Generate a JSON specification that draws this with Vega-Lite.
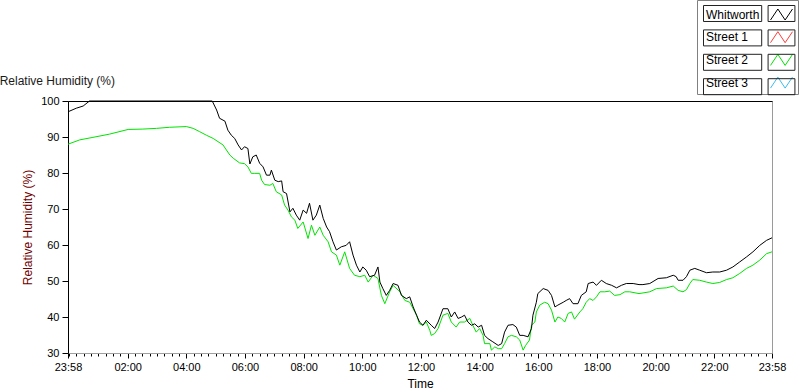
{
  "$schema": "https://vega.github.io/schema/vega-lite/v6.json",
  "width": 704,
  "height": 252,
  "autosize": {"type": "none"},
  "padding": {"left": 68, "top": 101, "right": 28, "bottom": 39},
  "background": "white",
  "config": {
    "font": "Liberation Sans",
    "view": {"stroke": "#9a9a9a", "strokeWidth": 1}
  },
  "title": {
    "text": "Relative Humidity (%)",
    "anchor": "start",
    "dx": -22,
    "dy": 102,
    "baseline": "alphabetic",
    "fontSize": 12,
    "font": "Liberation Sans",
    "fontWeight": "normal",
    "color": "#1a1a1a"
  },
  "datasets": {
    "rh": [
      {"s":"Whitworth","t":0,"v":97.0},{"s":"Whitworth","t":17,"v":98.0},{"s":"Whitworth","t":31,"v":98.6},{"s":"Whitworth","t":44,"v":100},{"s":"Whitworth","t":295,"v":100},
      {"s":"Whitworth","t":304,"v":97.5},{"s":"Whitworth","t":310,"v":95.2},{"s":"Whitworth","t":321,"v":94.4},{"s":"Whitworth","t":327,"v":91.9},{"s":"Whitworth","t":334,"v":90.5},
      {"s":"Whitworth","t":341,"v":89.6},{"s":"Whitworth","t":348,"v":87.8},{"s":"Whitworth","t":355,"v":86.4},{"s":"Whitworth","t":361,"v":87.3},{"s":"Whitworth","t":368,"v":86.8},
      {"s":"Whitworth","t":372,"v":82.5},{"s":"Whitworth","t":378,"v":84.5},{"s":"Whitworth","t":385,"v":85.0},{"s":"Whitworth","t":392,"v":82.7},{"s":"Whitworth","t":399,"v":81.7},
      {"s":"Whitworth","t":406,"v":79.4},{"s":"Whitworth","t":413,"v":79.4},{"s":"Whitworth","t":416,"v":80.8},{"s":"Whitworth","t":423,"v":78.0},{"s":"Whitworth","t":430,"v":77.6},
      {"s":"Whitworth","t":437,"v":77.8},{"s":"Whitworth","t":440,"v":74.8},{"s":"Whitworth","t":447,"v":74.3},{"s":"Whitworth","t":454,"v":69.2},{"s":"Whitworth","t":460,"v":70.2},
      {"s":"Whitworth","t":467,"v":68.3},{"s":"Whitworth","t":474,"v":66.9},{"s":"Whitworth","t":481,"v":69.7},{"s":"Whitworth","t":488,"v":68.8},{"s":"Whitworth","t":494,"v":71.6},
      {"s":"Whitworth","t":501,"v":66.9},{"s":"Whitworth","t":508,"v":68.3},{"s":"Whitworth","t":515,"v":71.1},{"s":"Whitworth","t":522,"v":67.4},{"s":"Whitworth","t":529,"v":65.0},
      {"s":"Whitworth","t":535,"v":63.7},{"s":"Whitworth","t":542,"v":60.9},{"s":"Whitworth","t":549,"v":58.6},{"s":"Whitworth","t":559,"v":59.5},{"s":"Whitworth","t":569,"v":59.9},
      {"s":"Whitworth","t":576,"v":60.9},{"s":"Whitworth","t":583,"v":57.2},{"s":"Whitworth","t":590,"v":54.4},{"s":"Whitworth","t":597,"v":52.5},{"s":"Whitworth","t":603,"v":53.9},
      {"s":"Whitworth","t":610,"v":53.0},{"s":"Whitworth","t":617,"v":51.2},{"s":"Whitworth","t":627,"v":51.6},{"s":"Whitworth","t":634,"v":53.9},{"s":"Whitworth","t":638,"v":49.7},
      {"s":"Whitworth","t":644,"v":47.9},{"s":"Whitworth","t":651,"v":46.0},{"s":"Whitworth","t":658,"v":47.4},{"s":"Whitworth","t":665,"v":49.3},{"s":"Whitworth","t":675,"v":48.8},
      {"s":"Whitworth","t":682,"v":46.0},{"s":"Whitworth","t":692,"v":45.1},{"s":"Whitworth","t":699,"v":45.6},{"s":"Whitworth","t":706,"v":42.8},{"s":"Whitworth","t":713,"v":40.5},
      {"s":"Whitworth","t":719,"v":38.6},{"s":"Whitworth","t":726,"v":37.7},{"s":"Whitworth","t":733,"v":39.1},{"s":"Whitworth","t":743,"v":37.7},{"s":"Whitworth","t":750,"v":36.8},
      {"s":"Whitworth","t":757,"v":38.6},{"s":"Whitworth","t":767,"v":42.3},{"s":"Whitworth","t":777,"v":42.3},{"s":"Whitworth","t":784,"v":40.0},{"s":"Whitworth","t":791,"v":41.4},
      {"s":"Whitworth","t":798,"v":39.6},{"s":"Whitworth","t":805,"v":40.0},{"s":"Whitworth","t":811,"v":40.5},{"s":"Whitworth","t":818,"v":38.6},{"s":"Whitworth","t":825,"v":37.7},
      {"s":"Whitworth","t":832,"v":38.1},{"s":"Whitworth","t":839,"v":37.2},{"s":"Whitworth","t":846,"v":37.7},{"s":"Whitworth","t":852,"v":34.9},{"s":"Whitworth","t":859,"v":34.0},
      {"s":"Whitworth","t":869,"v":33.1},{"s":"Whitworth","t":880,"v":32.1},{"s":"Whitworth","t":887,"v":32.6},{"s":"Whitworth","t":893,"v":35.8},{"s":"Whitworth","t":900,"v":37.7},
      {"s":"Whitworth","t":910,"v":37.9},{"s":"Whitworth","t":917,"v":37.2},{"s":"Whitworth","t":924,"v":34.9},{"s":"Whitworth","t":931,"v":34.9},{"s":"Whitworth","t":941,"v":34.5},
      {"s":"Whitworth","t":948,"v":36.8},{"s":"Whitworth","t":951,"v":40.5},{"s":"Whitworth","t":958,"v":44.1},{"s":"Whitworth","t":961,"v":46.5},{"s":"Whitworth","t":972,"v":47.9},
      {"s":"Whitworth","t":982,"v":47.4},{"s":"Whitworth","t":989,"v":46.0},{"s":"Whitworth","t":996,"v":42.8},{"s":"Whitworth","t":1002,"v":43.3},{"s":"Whitworth","t":1013,"v":44.1},
      {"s":"Whitworth","t":1019,"v":44.6},{"s":"Whitworth","t":1026,"v":45.1},{"s":"Whitworth","t":1033,"v":43.7},{"s":"Whitworth","t":1043,"v":43.7},{"s":"Whitworth","t":1050,"v":46.0},
      {"s":"Whitworth","t":1060,"v":47.0},{"s":"Whitworth","t":1064,"v":49.3},{"s":"Whitworth","t":1074,"v":49.7},{"s":"Whitworth","t":1081,"v":48.8},{"s":"Whitworth","t":1091,"v":50.2},
      {"s":"Whitworth","t":1101,"v":49.3},{"s":"Whitworth","t":1112,"v":48.8},{"s":"Whitworth","t":1122,"v":48.1},{"s":"Whitworth","t":1132,"v":48.8},{"s":"Whitworth","t":1142,"v":49.3},
      {"s":"Whitworth","t":1156,"v":49.3},{"s":"Whitworth","t":1168,"v":49.0},{"s":"Whitworth","t":1176,"v":49.0},{"s":"Whitworth","t":1190,"v":49.3},{"s":"Whitworth","t":1207,"v":50.7},
      {"s":"Whitworth","t":1224,"v":50.9},{"s":"Whitworth","t":1238,"v":51.6},{"s":"Whitworth","t":1244,"v":51.2},{"s":"Whitworth","t":1248,"v":50.2},{"s":"Whitworth","t":1258,"v":50.2},
      {"s":"Whitworth","t":1265,"v":51.2},{"s":"Whitworth","t":1272,"v":53.0},{"s":"Whitworth","t":1282,"v":53.5},{"s":"Whitworth","t":1292,"v":53.0},{"s":"Whitworth","t":1306,"v":52.3},
      {"s":"Whitworth","t":1319,"v":52.5},{"s":"Whitworth","t":1333,"v":52.5},{"s":"Whitworth","t":1347,"v":53.0},{"s":"Whitworth","t":1360,"v":53.9},{"s":"Whitworth","t":1374,"v":55.3},
      {"s":"Whitworth","t":1388,"v":56.7},{"s":"Whitworth","t":1401,"v":58.1},{"s":"Whitworth","t":1415,"v":59.9},{"s":"Whitworth","t":1429,"v":61.3},{"s":"Whitworth","t":1440,"v":62.0},

      {"s":"Street 2","t":0,"v":88.0},{"s":"Street 2","t":24,"v":89.2},{"s":"Street 2","t":51,"v":89.9},{"s":"Street 2","t":85,"v":90.8},{"s":"Street 2","t":123,"v":92.1},
      {"s":"Street 2","t":153,"v":92.2},{"s":"Street 2","t":181,"v":92.4},{"s":"Street 2","t":208,"v":92.7},{"s":"Street 2","t":242,"v":92.9},{"s":"Street 2","t":256,"v":92.4},
      {"s":"Street 2","t":269,"v":91.5},{"s":"Street 2","t":283,"v":90.5},{"s":"Street 2","t":297,"v":89.6},{"s":"Street 2","t":317,"v":87.8},{"s":"Street 2","t":331,"v":85.0},
      {"s":"Street 2","t":338,"v":84.1},{"s":"Street 2","t":351,"v":82.8},{"s":"Street 2","t":361,"v":82.6},{"s":"Street 2","t":368,"v":81.7},{"s":"Street 2","t":375,"v":79.9},
      {"s":"Street 2","t":382,"v":79.9},{"s":"Street 2","t":392,"v":79.9},{"s":"Street 2","t":396,"v":78.0},{"s":"Street 2","t":402,"v":76.8},{"s":"Street 2","t":413,"v":76.6},
      {"s":"Street 2","t":419,"v":77.1},{"s":"Street 2","t":426,"v":74.8},{"s":"Street 2","t":437,"v":73.9},{"s":"Street 2","t":443,"v":71.1},{"s":"Street 2","t":450,"v":69.7},
      {"s":"Street 2","t":457,"v":67.8},{"s":"Street 2","t":464,"v":66.9},{"s":"Street 2","t":470,"v":64.6},{"s":"Street 2","t":481,"v":66.4},{"s":"Street 2","t":491,"v":61.8},
      {"s":"Street 2","t":498,"v":65.5},{"s":"Street 2","t":505,"v":62.7},{"s":"Street 2","t":515,"v":65.0},{"s":"Street 2","t":522,"v":62.7},{"s":"Street 2","t":532,"v":60.9},
      {"s":"Street 2","t":539,"v":58.1},{"s":"Street 2","t":549,"v":57.2},{"s":"Street 2","t":556,"v":54.4},{"s":"Street 2","t":566,"v":58.1},{"s":"Street 2","t":576,"v":53.5},
      {"s":"Street 2","t":586,"v":51.6},{"s":"Street 2","t":597,"v":51.2},{"s":"Street 2","t":607,"v":51.6},{"s":"Street 2","t":614,"v":49.7},{"s":"Street 2","t":624,"v":51.6},
      {"s":"Street 2","t":634,"v":50.7},{"s":"Street 2","t":641,"v":46.0},{"s":"Street 2","t":648,"v":43.7},{"s":"Street 2","t":658,"v":47.0},{"s":"Street 2","t":665,"v":48.8},
      {"s":"Street 2","t":679,"v":47.0},{"s":"Street 2","t":689,"v":44.6},{"s":"Street 2","t":699,"v":44.1},{"s":"Street 2","t":706,"v":42.3},{"s":"Street 2","t":713,"v":40.5},
      {"s":"Street 2","t":719,"v":38.1},{"s":"Street 2","t":726,"v":37.7},{"s":"Street 2","t":733,"v":38.6},{"s":"Street 2","t":740,"v":36.3},{"s":"Street 2","t":743,"v":34.9},
      {"s":"Street 2","t":750,"v":35.4},{"s":"Street 2","t":757,"v":36.8},{"s":"Street 2","t":767,"v":40.5},{"s":"Street 2","t":777,"v":41.0},{"s":"Street 2","t":784,"v":38.6},
      {"s":"Street 2","t":794,"v":37.2},{"s":"Street 2","t":801,"v":38.6},{"s":"Street 2","t":811,"v":38.6},{"s":"Street 2","t":822,"v":39.6},{"s":"Street 2","t":828,"v":37.7},
      {"s":"Street 2","t":835,"v":35.8},{"s":"Street 2","t":842,"v":36.8},{"s":"Street 2","t":849,"v":34.9},{"s":"Street 2","t":852,"v":32.6},{"s":"Street 2","t":863,"v":32.6},
      {"s":"Street 2","t":866,"v":30.8},{"s":"Street 2","t":873,"v":31.7},{"s":"Street 2","t":880,"v":31.2},{"s":"Street 2","t":887,"v":31.2},{"s":"Street 2","t":893,"v":32.6},
      {"s":"Street 2","t":900,"v":34.5},{"s":"Street 2","t":907,"v":34.9},{"s":"Street 2","t":917,"v":34.5},{"s":"Street 2","t":924,"v":33.6},{"s":"Street 2","t":931,"v":30.8},
      {"s":"Street 2","t":936,"v":32.1},{"s":"Street 2","t":944,"v":33.6},{"s":"Street 2","t":948,"v":37.7},{"s":"Street 2","t":955,"v":38.6},{"s":"Street 2","t":958,"v":41.4},
      {"s":"Street 2","t":965,"v":43.3},{"s":"Street 2","t":975,"v":44.1},{"s":"Street 2","t":982,"v":43.7},{"s":"Street 2","t":989,"v":41.9},{"s":"Street 2","t":996,"v":38.6},
      {"s":"Street 2","t":1002,"v":40.0},{"s":"Street 2","t":1009,"v":39.6},{"s":"Street 2","t":1016,"v":38.6},{"s":"Street 2","t":1023,"v":41.0},{"s":"Street 2","t":1030,"v":41.4},
      {"s":"Street 2","t":1036,"v":39.4},{"s":"Street 2","t":1047,"v":41.4},{"s":"Street 2","t":1053,"v":42.3},{"s":"Street 2","t":1060,"v":44.1},{"s":"Street 2","t":1067,"v":45.1},
      {"s":"Street 2","t":1074,"v":44.6},{"s":"Street 2","t":1081,"v":45.6},{"s":"Street 2","t":1088,"v":47.0},{"s":"Street 2","t":1098,"v":47.0},{"s":"Street 2","t":1108,"v":47.2},
      {"s":"Street 2","t":1118,"v":46.0},{"s":"Street 2","t":1129,"v":46.2},{"s":"Street 2","t":1139,"v":47.0},{"s":"Street 2","t":1149,"v":47.0},{"s":"Street 2","t":1168,"v":46.5},
      {"s":"Street 2","t":1190,"v":47.0},{"s":"Street 2","t":1204,"v":47.9},{"s":"Street 2","t":1224,"v":48.1},{"s":"Street 2","t":1238,"v":48.6},{"s":"Street 2","t":1248,"v":47.4},
      {"s":"Street 2","t":1258,"v":47.0},{"s":"Street 2","t":1265,"v":47.6},{"s":"Street 2","t":1272,"v":49.3},{"s":"Street 2","t":1278,"v":50.4},{"s":"Street 2","t":1292,"v":50.2},
      {"s":"Street 2","t":1306,"v":49.7},{"s":"Street 2","t":1319,"v":49.3},{"s":"Street 2","t":1333,"v":49.6},{"s":"Street 2","t":1347,"v":50.4},{"s":"Street 2","t":1360,"v":50.9},
      {"s":"Street 2","t":1374,"v":52.1},{"s":"Street 2","t":1388,"v":53.5},{"s":"Street 2","t":1401,"v":54.4},{"s":"Street 2","t":1415,"v":55.8},{"s":"Street 2","t":1429,"v":57.6},
      {"s":"Street 2","t":1440,"v":58.1}
    ]
  },
  "data": {"name": "rh"},
  "encoding": {
    "x": {
      "field": "t",
      "type": "quantitative",
      "scale": {"domain": [0, 1440], "nice": false, "zero": false},
      "axis": {
        "title": "Time",
        "titleFontSize": 12,
        "titleFontWeight": "normal",
        "titleColor": "black",
        "titlePadding": 6,
        "values": [0,2,17,32,47,62,77,92,107,122,137,152,167,182,197,212,227,242,257,272,287,302,317,332,347,362,377,392,407,422,437,452,467,482,497,512,527,542,557,572,587,602,617,632,647,662,677,692,707,722,737,752,767,782,797,812,827,842,857,872,887,902,917,932,947,962,977,992,1007,1022,1037,1052,1067,1082,1097,1112,1127,1142,1157,1172,1187,1202,1217,1232,1247,1262,1277,1292,1307,1322,1337,1352,1367,1382,1397,1412,1427,1440],
        "labelExpr": "(datum.value == 0 || datum.value == 1440 || (datum.value >= 122 && (datum.value - 2) % 120 == 0)) ? (format(floor(((datum.value + 1438) % 1440) / 60), '02d') + ':' + format((datum.value + 1438) % 60, '02d')) : ''",
        "tickSize": {"condition": {"test": "datum.value == 0 || datum.value == 1440 || (datum.value >= 122 && (datum.value - 2) % 120 == 0)", "value": 5}, "value": 3},
        "tickColor": "black",
        "domainColor": "#a0a0a0",
        "labelFontSize": 11,
        "labelColor": "black",
        "labelPadding": 3,
        "labelFlush": false,
        "labelOverlap": false,
        "labelBound": false,
        "grid": false
      }
    },
    "y": {
      "field": "v",
      "type": "quantitative",
      "scale": {"domain": [30, 100], "nice": false, "zero": false},
      "axis": {
        "title": "Relative Humidity (%)",
        "titleColor": "#700000",
        "titleFontSize": 12,
        "titleFontWeight": "normal",
        "titlePadding": 6,
        "values": [30, 40, 50, 60, 70, 80, 90, 100],
        "tickSize": 6,
        "tickColor": "black",
        "domainColor": "black",
        "labelFontSize": 11,
        "labelColor": "black",
        "labelPadding": 3,
        "labelFlush": false,
        "labelOverlap": false,
        "labelBound": false,
        "grid": true,
        "gridColor": {"condition": {"test": "datum.value == 100", "value": "black"}, "value": "transparent"}
      }
    },
    "color": {
      "field": "s",
      "type": "nominal",
      "scale": {
        "domain": ["Whitworth", "Street 1", "Street 2", "Street 3"],
        "range": ["#000000", "#ff3a3a", "#00e400", "#3cbcf0"]
      },
      "legend": {
        "orient": "none",
        "legendX": 629,
        "legendY": -101,
        "title": null,
        "symbolType": "M-1,0.5L-0.33,-0.5L0.33,0.5L1,-0.5",
        "symbolSize": 484,
        "symbolStrokeWidth": 1,
        "symbolFillColor": "transparent",
        "symbolOffset": 70,
        "labelOffset": -87,
        "labelFontSize": 12,
        "labelFont": "Liberation Sans",
        "labelColor": "black",
        "labelLimit": 120,
        "rowPadding": 3.7,
        "padding": 3,
        "strokeColor": "#808080",
        "fillColor": "white"
      }
    }
  },
  "layer": [
    {"transform": [{"filter": "datum.s == 'Street 2'"}], "mark": {"type": "line", "strokeWidth": 1}},
    {"transform": [{"filter": "datum.s == 'Whitworth'"}], "mark": {"type": "line", "strokeWidth": 1}},
    {
      "transform": [{"filter": "false"}],
      "mark": {"type": "point", "filled": false, "color": "#222222"},
      "encoding": {
        "color": {"value": "#222222"},
        "shape": {
          "field": "b",
          "type": "nominal",
          "scale": {
            "domain": ["b1", "b2", "b3", "b4"],
            "range": [
              "M-7.09,-0.727L-1.8,-0.727L-1.8,0.727L-7.09,0.727Z M-1.22,-0.727L1.22,-0.727L1.22,0.727L-1.22,0.727Z",
              "M-7.09,-0.727L-1.8,-0.727L-1.8,0.727L-7.09,0.727Z M-1.22,-0.727L1.22,-0.727L1.22,0.727L-1.22,0.727Z",
              "M-7.09,-0.727L-1.8,-0.727L-1.8,0.727L-7.09,0.727Z M-1.22,-0.727L1.22,-0.727L1.22,0.727L-1.22,0.727Z",
              "M-7.09,-0.727L-1.8,-0.727L-1.8,0.727L-7.09,0.727Z M-1.22,-0.727L1.22,-0.727L1.22,0.727L-1.22,0.727Z"
            ]
          },
          "legend": {
            "orient": "none",
            "legendX": 629,
            "legendY": -102,
            "title": null,
            "symbolSize": 484,
            "symbolStrokeWidth": 1,
            "symbolStrokeColor": "#222222",
            "symbolFillColor": "transparent",
            "symbolOpacity": 1,
            "symbolOffset": 70,
            "labelOffset": -88,
            "labelFontSize": 12,
            "labelFont": "Liberation Sans",
            "labelExpr": "''",
            "labelLimit": 120,
            "rowPadding": 2.4,
            "padding": 3
          }
        }
      }
    }
  ]
}
